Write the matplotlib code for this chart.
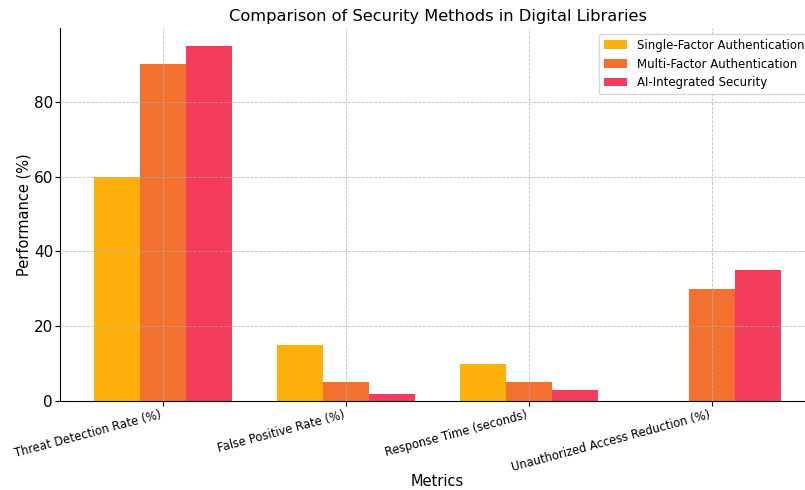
import matplotlib.pyplot as plt
import numpy as np

# data
metrics = ['Threat Detection Rate (%)', 'False Positive Rate (%)',
           'Response Time (seconds)', 'Unauthorized Access Reduction (%)']
single_factor = [60, 15, 10, 0]
multi_factor = [90, 5, 5, 30]
ai_integrated = [95, 2, 3, 35]
series_names = ['Single-Factor Authentication', 'Multi-Factor Authentication',
                'AI-Integrated Security']
colors = ['#FFAC00', '#F26922', '#F43254']

fig = plt.figure(figsize=(8.05, 4.9), dpi=100)
ax = fig.add_axes([60 / 805, 1 - 401 / 490, 755 / 805, 373 / 490])

x = np.arange(len(metrics))
width = 0.25
for i, (vals, name, c) in enumerate(zip([single_factor, multi_factor, ai_integrated],
                                        series_names, colors)):
    ax.bar(x + (i - 1) * width, vals, width, label=name, color=c, alpha=0.95)

ax.set_xticks(x)
ax.set_xticklabels(metrics, rotation=15, ha='right', fontsize=8.3)
ax.tick_params(axis='x', pad=2)
ax.tick_params(axis='y', labelsize=11, pad=1.5)
ax.set_xlabel('Metrics', fontsize=10.5)
ax.set_ylabel('Performance (%)', fontsize=10.5)
ax.xaxis.set_label_coords(0.5, -0.197)
ax.yaxis.set_label_coords(-0.038, 0.5)
ax.set_title('Comparison of Security Methods in Digital Libraries', fontsize=11.7, pad=5)

ax.grid(True, linestyle='--', linewidth=0.6, color='#b0b0b0', alpha=0.8)
ax.set_axisbelow(False)
ax.spines['top'].set_visible(False)
ax.spines['right'].set_visible(False)
ax.legend(loc='upper right', fontsize=8.5)

fig.savefig('out.png', dpi=100)
